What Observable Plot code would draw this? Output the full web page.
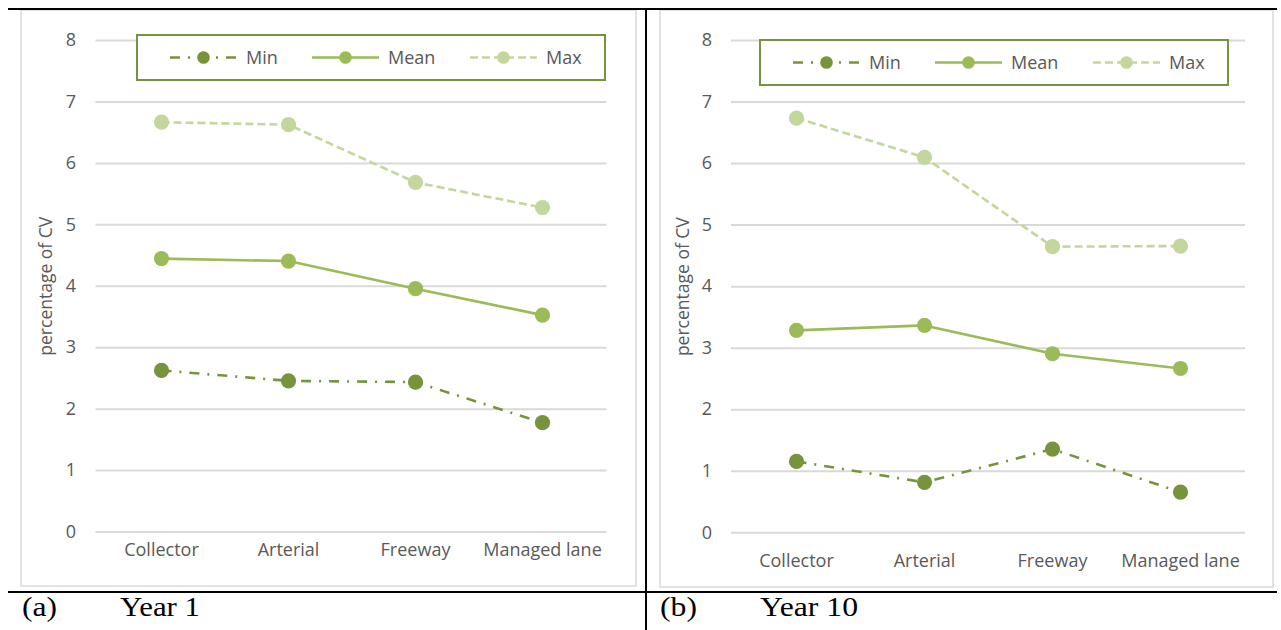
<!DOCTYPE html>
<html>
<head>
<meta charset="utf-8">
<script src="https://cdn.jsdelivr.net/npm/d3@7"></script>
<script src="https://cdn.jsdelivr.net/npm/@observablehq/plot@0.6"></script>
<style>
  html, body { margin: 0; padding: 0; background: #fff; }
  #page { position: relative; width: 1281px; height: 630px; overflow: hidden; background: #fff; }
  .panel { position: absolute; }
  #overlay { position: absolute; left: 0; top: 0; }
</style>
</head>
<body>
<div id="page">
  <div id="panelA" class="panel"></div>
  <div id="panelB" class="panel"></div>
  <svg id="overlay" width="1281" height="630"></svg>
</div>
<script>
// ---------- data ----------
const categories = ["Collector", "Arterial", "Freeway", "Managed lane"];
const seriesNames = ["Min", "Mean", "Max"];
const yTicks = [0, 1, 2, 3, 4, 5, 6, 7, 8];
const yTitle = "percentage of CV";

const year1Min  = [2.63, 2.46, 2.44, 1.78];
const year1Mean = [4.45, 4.41, 3.96, 3.53];
const year1Max  = [6.67, 6.63, 5.69, 5.28];

const year10Min  = [1.16, 0.82, 1.36, 0.66];
const year10Mean = [3.29, 3.37, 2.91, 2.67];
const year10Max  = [6.74, 6.10, 4.65, 4.66];

const captions = [["(a)", "Year 1"], ["(b)", "Year 10"]];

// ---------- styles ----------
const colors = {Min: "#77933C", Mean: "#9BBB59", Max: "#C3D69B"};
const dashes = {Min: "10,8,2,8", Mean: null, Max: "8,4"};
const textColor = "#595959";
const gridColor = "#d9d9d9";
const font = "'Open Sans', sans-serif";

function rowsFor(minV, meanV, maxV) {
  const vals = {Min: minV, Mean: meanV, Max: maxV};
  const rows = [];
  for (const s of seriesNames) categories.forEach((c, i) => rows.push({category: c, series: s, value: vals[s][i]}));
  return rows;
}

function makeChart(rows, o) {
  const marks = [
    Plot.ruleY(yTicks, {stroke: gridColor, strokeWidth: 2}),
    Plot.axisY({ticks: yTicks, tickSize: 0, tickPadding: o.yPad, label: null, fill: textColor, fontSize: 18}),
    Plot.axisX({tickSize: 0, tickPadding: o.xPad, label: null, fill: textColor, fontSize: 18}),
    Plot.text([yTitle], {frameAnchor: "left", dx: o.titleDx, rotate: -90, fill: textColor, fontSize: 17.5, textAnchor: "middle"})
  ];
  for (const s of seriesNames) {
    marks.push(Plot.line(rows.filter(d => d.series === s), {
      x: "category", y: "value", stroke: colors[s], strokeWidth: 2.6,
      strokeDasharray: dashes[s] || undefined, strokeLinecap: "butt"
    }));
  }
  for (const s of seriesNames) {
    marks.push(Plot.dot(rows.filter(d => d.series === s), {
      x: "category", y: "value", r: 7.6, fill: colors[s], stroke: "none"
    }));
  }
  return Plot.plot({
    width: o.width, height: o.height,
    marginLeft: o.mL, marginRight: o.mR, marginTop: o.mT, marginBottom: o.mB,
    style: {fontFamily: font, fontSize: "18px", color: textColor, background: "transparent", overflow: "visible"},
    x: {type: "point", domain: categories, padding: 0.5, label: null, axis: null},
    y: {domain: [0, 8], label: null, axis: null},
    marks
  });
}

const panels = [
  {id: "panelA", rows: rowsFor(year1Min, year1Mean, year1Max),
   box: {x: 21, y: 10, w: 615, h: 576},
   opt: {width: 615, height: 576, mL: 74.5, mR: 29.5, mT: 30, mB: 54.5, yPad: 20, xPad: 11.5, titleDx: -49.5},
   legend: {x: 137, y: 35}, caption: {x: 22, x2: 120, w1: 35, w2: 80}},
  {id: "panelB", rows: rowsFor(year10Min, year10Mean, year10Max),
   box: {x: 660, y: 10, w: 613, h: 577},
   opt: {width: 613, height: 577, mL: 71, mR: 28, mT: 30, mB: 54.7, yPad: 19.5, xPad: 21, titleDx: -48},
   legend: {x: 760, y: 40}, caption: {x: 660, x2: 760, w1: 37, w2: 98}}
];

const ov = d3.select("#overlay");

panels.forEach((p, pi) => {
  const el = document.getElementById(p.id);
  el.style.left = p.box.x + "px";
  el.style.top = p.box.y + "px";
  el.appendChild(makeChart(p.rows, p.opt));

  // panel border
  ov.append("rect").attr("x", p.box.x).attr("y", p.box.y).attr("width", p.box.w).attr("height", p.box.h)
    .attr("fill", "none").attr("stroke", gridColor).attr("stroke-width", 1.5);

  // legend
  const lg = ov.append("g").attr("transform", `translate(${p.legend.x},${p.legend.y})`);
  lg.append("rect").attr("x", 0).attr("y", 0).attr("width", 468).attr("height", 45)
    .attr("fill", "#fff").attr("stroke", "#77933C").attr("stroke-width", 2);
  const itemX = [33, 175, 333];
  seriesNames.forEach((s, i) => {
    const x0 = itemX[i], cy = 22.5;
    lg.append("line").attr("x1", x0).attr("x2", x0 + 67).attr("y1", cy).attr("y2", cy)
      .attr("stroke", colors[s]).attr("stroke-width", 2.6)
      .attr("stroke-dasharray", dashes[s]);
    lg.append("circle").attr("cx", x0 + 33.5).attr("cy", cy).attr("r", 6.3).attr("fill", colors[s]);
    lg.append("text").attr("x", x0 + 76).attr("y", cy).attr("dy", "0.35em")
      .attr("fill", textColor).style("font-family", font).style("font-size", "18px").text(s);
  });

  // caption
  const serif = "'Liberation Serif', 'Times New Roman', serif";
  ov.append("text").attr("x", p.caption.x).attr("y", 616)
    .style("font-family", serif).style("font-size", "28px")
    .attr("textLength", p.caption.w1).attr("lengthAdjust", "spacingAndGlyphs")
    .attr("fill", "#000").text(captions[pi][0]);
  ov.append("text").attr("x", p.caption.x2).attr("y", 616)
    .style("font-family", serif).style("font-size", "28px")
    .attr("textLength", p.caption.w2).attr("lengthAdjust", "spacingAndGlyphs")
    .attr("fill", "#000").text(captions[pi][1]);
});

// table rules
ov.append("line").attr("x1", 8).attr("x2", 1277).attr("y1", 9).attr("y2", 9).attr("stroke", "#000").attr("stroke-width", 2);
ov.append("line").attr("x1", 8).attr("x2", 1277).attr("y1", 592).attr("y2", 592).attr("stroke", "#000").attr("stroke-width", 2);
ov.append("line").attr("x1", 646).attr("x2", 646).attr("y1", 8).attr("y2", 630).attr("stroke", "#000").attr("stroke-width", 2);
</script>
</body>
</html>
